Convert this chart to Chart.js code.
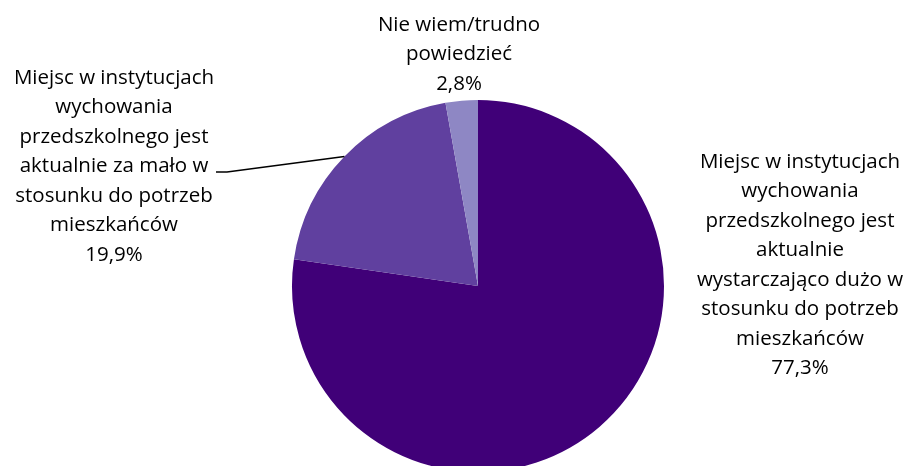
<!DOCTYPE html>
<html>
<head>
<meta charset="utf-8">
<script src="https://cdn.jsdelivr.net/npm/chart.js@4/dist/chart.umd.min.js"></script>
<style>
  html, body { margin: 0; padding: 0; background: #fff; }
  #wrap { width: 909px; height: 466px; position: relative; }
</style>
</head>
<body>
<div id="wrap"><canvas id="pieChart"></canvas></div>
<script>
// dane wykresu
const categories = [
  ["Miejsc w instytucjach", "wychowania", "przedszkolnego jest", "aktualnie", "wystarczająco dużo w", "stosunku do potrzeb", "mieszkańców"],
  ["Miejsc w instytucjach", "wychowania", "przedszkolnego jest", "aktualnie za mało w", "stosunku do potrzeb", "mieszkańców"],
  ["Nie wiem/trudno", "powiedzieć"],
];
const values = [77.3, 19.9, 2.8];
const valueLabels = ["77,3%", "19,9%", "2,8%"];
const colors = ["#400078", "#60409F", "#8E87C4"];

// położenie etykiet (środek tekstu, pierwsza linia)
const labelPos = [
  { x: 800, y: 162 },
  { x: 114, y: 78 },
  { x: 459, y: 25 },
];

const labelsPlugin = {
  id: "pieLabels",
  afterDraw(chart) {
    const ctx = chart.ctx;
    ctx.save();
    ctx.font = "20.5px 'Open Sans'";
    ctx.fillStyle = "#000";
    ctx.textAlign = "center";
    ctx.textBaseline = "middle";
    const lh = 29.5;
    categories.forEach((lines, i) => {
      const all = lines.concat([valueLabels[i]]);
      all.forEach((t, j) => {
        ctx.fillText(t, labelPos[i].x, labelPos[i].y + j * lh);
      });
    });
    // linia odniesienia dla 19,9%
    const arc = chart.getDatasetMeta(0).data[1];
    const mid = (arc.startAngle + arc.endAngle) / 2;
    const ex = arc.x + Math.cos(mid) * arc.outerRadius;
    const ey = arc.y + Math.sin(mid) * arc.outerRadius;
    ctx.strokeStyle = "#000";
    ctx.lineWidth = 1.5;
    ctx.beginPath();
    ctx.moveTo(216, 172);
    ctx.lineTo(227, 172);
    ctx.lineTo(ex, ey);
    ctx.stroke();
    ctx.restore();
  },
};

document.addEventListener("DOMContentLoaded", () => {
  new Chart("pieChart", {
    type: "pie",
    data: {
      labels: categories.map((c) => c.join(" ")),
      datasets: [
        {
          data: values,
          backgroundColor: colors,
          borderWidth: 0,
        },
      ],
    },
    options: {
      animation: false,
      responsive: true,
      maintainAspectRatio: false,
      radius: 186,
      layout: { padding: { top: 106, left: 47, right: 0, bottom: 0 } },
      plugins: {
        legend: { display: false },
        tooltip: { enabled: false },
      },
    },
    plugins: [labelsPlugin],
  });
});
</script>
</body>
</html>
